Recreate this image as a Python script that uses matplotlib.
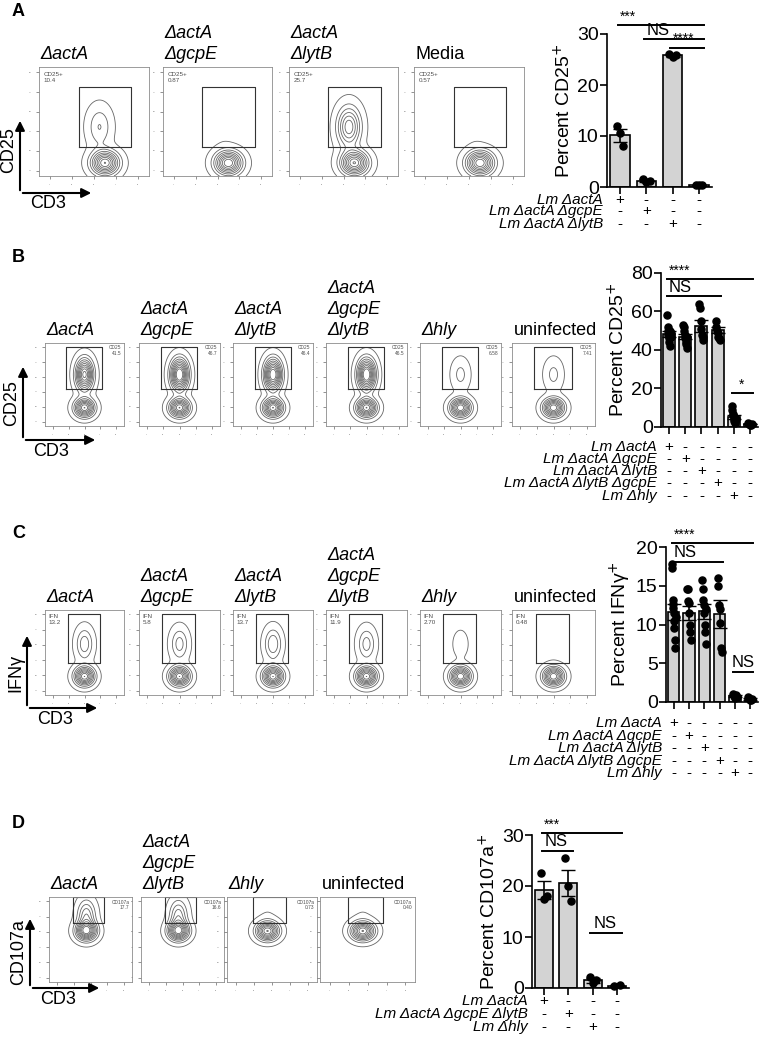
import numpy as np
import matplotlib.pyplot as plt
from matplotlib import transforms
from matplotlib.patches import FancyArrowPatch

plt.rcParams['font.family'] = 'Liberation Sans'

W, H = 762, 1039

# ---- bar chart data ----
a_means = [10.1, 1.2, 25.8, 0.3]
a_sem = [1.2, 0.3, 0.3, 0.15]
a_points = [[12.0, 10.5, 8.0], [1.5, 1.0, 1.2], [26.0, 25.5, 25.8], [0.4, 0.3, 0.3]]
a_rows = ['Lm ΔactA', 'Lm ΔactA ΔgcpE', 'Lm ΔactA ΔlytB']

b_means = [48.5, 47.0, 52.5, 50.3, 5.0, 1.5]
b_sem = [1.6, 1.5, 3.0, 1.5, 1.0, 0.2]
b_points = [[58, 52, 50, 48, 46, 44, 42, 50, 49, 47],
            [53, 52, 50, 48, 46, 44, 43, 41, 47],
            [64, 62, 55, 51, 48, 47, 45],
            [55, 52, 50, 49, 47, 46, 45],
            [11, 9, 7, 6, 5, 4, 3, 3, 2, 4],
            [2, 1.5, 1.2, 1.0, 1.8]]
bc_rows = ['Lm ΔactA', 'Lm ΔactA ΔgcpE', 'Lm ΔactA ΔlytB', 'Lm ΔactA ΔlytB ΔgcpE', 'Lm Δhly']

c_means = [11.6, 11.5, 11.7, 11.4, 0.8, 0.4]
c_sem = [1.0, 0.9, 1.0, 1.8, 0.1, 0.1]
c_points = [[17.8, 17.3, 13.2, 12.7, 12.1, 11.5, 10.5, 9.5, 8.0, 7.0, 11.0],
            [14.6, 14.6, 13.0, 12.8, 11.5, 10.0, 9.0, 8.0],
            [15.8, 14.6, 13.2, 12.5, 11.5, 10.0, 9.0, 7.5, 12.0],
            [16.0, 15.0, 12.5, 12.0, 10.2, 7.0, 6.5],
            [1.0, 0.8, 0.6, 0.5, 0.9, 0.7],
            [0.7, 0.5, 0.3, 0.2, 0.4]]

d_means = [19.2, 20.6, 1.5, 0.4]
d_sem = [1.7, 2.5, 0.5, 0.1]
d_points = [[22.5, 17.5, 18.0], [25.5, 20.0, 17.0], [2.2, 1.0, 1.5], [0.4, 0.5]]
d_rows = ['Lm ΔactA', 'Lm ΔactA ΔgcpE ΔlytB', 'Lm Δhly']

# ---- flow panel data ----
a_titles = ['ΔactA', 'ΔactA\nΔgcpE', 'ΔactA\nΔlytB', 'Media']
a_gate = ['CD25+\n10.4', 'CD25+\n0.87', 'CD25+\n25.7', 'CD25+\n0.57']
a_pos = [0.10, 0.01, 0.26, 0.01]
b_titles = ['ΔactA', 'ΔactA\nΔgcpE', 'ΔactA\nΔlytB', 'ΔactA\nΔgcpE\nΔlytB', 'Δhly', 'uninfected']
b_gate = ['CD25\n41.5', 'CD25\n46.7', 'CD25\n46.4', 'CD25\n46.5', 'CD25\n6.58', 'CD25\n7.41']
b_pos = [0.42, 0.47, 0.46, 0.47, 0.07, 0.07]
c_gate = ['IFN\n13.2', 'IFN\n5.8', 'IFN\n13.7', 'IFN\n11.9', 'IFN\n2.70', 'IFN\n0.48']
c_pos = [0.13, 0.12, 0.14, 0.12, 0.03, 0.01]
d_titles = ['ΔactA', 'ΔactA\nΔgcpE\nΔlytB', 'Δhly', 'uninfected']
d_gate = ['CD107a\n17.7', 'CD107a\n16.6', 'CD107a\n0.73', 'CD107a\n0.40']
d_pos = [0.18, 0.17, 0.01, 0.01]
plain_titles = ['Media', 'uninfected']

fig = plt.figure(figsize=(W / 100, H / 100), dpi=100)


def px(x0, y0, x1, y1):
    return fig.add_axes([x0 / W, 1 - y1 / H, (x1 - x0) / W, (y1 - y0) / H])


gx, gy = np.meshgrid(np.linspace(0, 1, 120), np.linspace(0, 1, 120))


def flow(x0, y0, x1, y1, title, gate_txt, pos, gate, neg_c, pos_c, txt_right):
    ax = px(x0, y0, x1, y1)
    z = np.exp(-((gx - neg_c[0]) ** 2 / (2 * 0.08 ** 2) + (gy - neg_c[1]) ** 2 / (2 * 0.07 ** 2)))
    z += pos * 2.5 * np.exp(-((gx - pos_c[0]) ** 2 / (2 * 0.07 ** 2) + (gy - pos_c[1]) ** 2 / (2 * 0.12 ** 2)))
    ax.contour(gx, gy, z, levels=np.linspace(0.03, 1.0, 10), colors='0.4', linewidths=0.6)
    ax.plot([gate[0], gate[1], gate[1], gate[0], gate[0]],
            [gate[2], gate[2], gate[3], gate[3], gate[2]], color='0.2', lw=0.8)
    ax.set_xlim(0, 1)
    ax.set_ylim(0, 1)
    ax.set_xticks(np.linspace(0.1, 0.9, 5))
    ax.set_yticks(np.linspace(0.05, 0.95, 6))
    ax.tick_params(labelsize=0, length=2, width=0.5, colors='0.4')
    for s in ax.spines.values():
        s.set_color('0.55')
        s.set_linewidth(0.6)
    if txt_right:
        ax.text(0.97, 0.97, gate_txt, fontsize=3.5, ha='right', va='top', color='0.3', transform=ax.transAxes)
    else:
        ax.text(0.04, 0.95, gate_txt, fontsize=4.5, ha='left', va='top', color='0.3', transform=ax.transAxes)
    style = 'normal' if title in plain_titles else 'italic'
    fig.text(x0 / W + 0.002, 1 - (y0 - 4) / H, title, fontsize=13, style=style, ha='left', va='bottom',
             linespacing=1.3)


def axes_arrows(x, ytop, ybot, xright, ylab, ylab_y, xlab_y):
    for end in [(x / W, 1 - ytop / H), (xright / W, 1 - ybot / H)]:
        fig.add_artist(FancyArrowPatch((x / W, 1 - ybot / H), end, transform=fig.transFigure,
                                       arrowstyle='-|>', mutation_scale=14, color='black', lw=1.5))
    fig.text((x - 11) / W, 1 - ylab_y / H, ylab, fontsize=13, rotation=90, ha='center', va='center')
    fig.text((x + 10) / W, 1 - xlab_y / H, 'CD3', fontsize=13, ha='left', va='center')


def bars(x0, y0, x1, y1, means, sem, points, ymax, yticks, ylabel, rows, row_y, sigs):
    ax = px(x0, y0, x1, y1)
    n = len(means)
    xs = np.arange(n)
    ax.bar(xs, means, width=0.75, color='#d3d3d3', edgecolor='black', lw=1.2, zorder=1)
    ax.errorbar(xs, means, yerr=sem, fmt='none', ecolor='black', elinewidth=1.2, capsize=5, zorder=2)
    for i, pts in enumerate(points):
        off = np.linspace(-0.12, 0.12, len(pts)) if len(pts) > 1 else [0]
        ax.scatter(xs[i] + np.array(off), pts, s=26, color='black', zorder=3, clip_on=False)
    ax.set_xlim(-0.5, n - 0.5)
    ax.set_ylim(0, ymax)
    ax.set_yticks(yticks)
    ax.set_xticks(xs)
    ax.set_xticklabels([])
    ax.tick_params(axis='y', labelsize=14, width=1.2, length=5, pad=1)
    ax.tick_params(axis='x', width=1.2, length=5)
    for s in ['top', 'right']:
        ax.spines[s].set_visible(False)
    for s in ['left', 'bottom']:
        ax.spines[s].set_linewidth(1.2)
    ax.set_ylabel(ylabel, fontsize=14, labelpad=2)
    for (a, b, yv, txt) in sigs:
        ax.plot([a - 0.1, b + 0.2], [yv, yv], color='black', lw=1.4, clip_on=False)
        centered = (txt == 'NS' and b - a < 2) or txt == '*'
        ax.text((a + b) / 2 if centered else a, yv + ymax * 0.01, txt, fontsize=12 if txt == 'NS' else 10,
                ha='center' if centered else 'left', va='bottom')
    tr = transforms.blended_transform_factory(ax.transData, fig.transFigure)
    for r, (name, yy) in enumerate(zip(rows, row_y)):
        fig.text((x0 - 4) / W, 1 - yy / H, name, fontsize=11, style='italic', ha='right', va='center')
        for i in range(n):
            ax.text(i, 1 - yy / H, '+' if i == r else '-', transform=tr, fontsize=11, ha='center', va='center')
    return ax


# Panel A
fig.text(12 / W, 1 - 12 / H, 'A', fontsize=13, fontweight='bold', va='center')
a_x = [(39, 149), (163, 272), (289, 398), (414, 524)]
for i, (xa, xb) in enumerate(a_x):
    flow(xa, 67, xb, 176, a_titles[i], a_gate[i], a_pos[i], (0.36, 0.84, 0.27, 0.82),
         (0.6, 0.12), (0.55, 0.45), False)
axes_arrows(20, 118, 193, 94, 'CD25', 150, 203)
bars(607, 34, 712, 187, a_means, a_sem, a_points, 30, [0, 10, 20, 30], 'Percent CD25$^{+}$',
     a_rows, [200, 211, 224],
     [(0, 3, 31.8, '***'), (1, 3, 29.0, 'NS'), (2, 3, 27.3, '****')])

# Panel B
fig.text(12 / W, 1 - 257 / H, 'B', fontsize=13, fontweight='bold', va='center')
bc_x = [(45, 124), (139, 220), (233, 313), (326, 407), (420, 501), (512, 595)]
for i, (xa, xb) in enumerate(bc_x):
    flow(xa, 343, xb, 426, b_titles[i], b_gate[i], b_pos[i], (0.27, 0.72, 0.44, 0.95),
         (0.5, 0.22), (0.5, 0.62), True)
axes_arrows(23, 364, 440, 98, 'CD25', 403, 452)
bars(661, 273, 758, 427, b_means, b_sem, b_points, 80, [0, 20, 40, 60, 80], 'Percent CD25$^{+}$',
     bc_rows, [447, 459, 471, 483, 496],
     [(0, 5, 76.9, '****'), (0, 3, 68.0, 'NS'), (4, 5, 17.7, '*')])

# Panel C
fig.text(12 / W, 1 - 533 / H, 'C', fontsize=13, fontweight='bold', va='center')
for i, (xa, xb) in enumerate(bc_x):
    flow(xa, 610, xb, 695, b_titles[i], c_gate[i], c_pos[i], (0.29, 0.69, 0.38, 0.95),
         (0.5, 0.22), (0.5, 0.6), False)
axes_arrows(27, 633, 708, 100, 'IFNγ', 673, 720)
bars(666, 547, 758, 702, c_means, c_sem, c_points, 20, [0, 5, 10, 15, 20], 'Percent IFNγ$^{+}$',
     bc_rows, [723, 736, 748, 761, 773],
     [(0, 5, 20.5, '****'), (0, 3, 18.1, 'NS'), (4, 5, 3.9, 'NS')])

# Panel D
fig.text(12 / W, 1 - 823 / H, 'D', fontsize=13, fontweight='bold', va='center')
d_x = [(49, 132), (141, 224), (227, 317), (320, 415)]
for i, (xa, xb) in enumerate(d_x):
    flow(xa, 897, xb, 982, d_titles[i], d_gate[i], d_pos[i], (0.29, 0.66, 0.69, 1.0),
         (0.45, 0.6), (0.45, 0.78), True)
axes_arrows(30, 916, 988, 102, 'CD107a', 952, 1000)
bars(532, 835, 629, 988, d_means, d_sem, d_points, 30, [0, 10, 20, 30], 'Percent CD107a$^{+}$',
     d_rows, [1001, 1014, 1027],
     [(0, 3, 30.4, '***'), (0, 1, 26.9, 'NS'), (2, 3, 10.8, 'NS')])

fig.savefig('out.png', dpi=100)
